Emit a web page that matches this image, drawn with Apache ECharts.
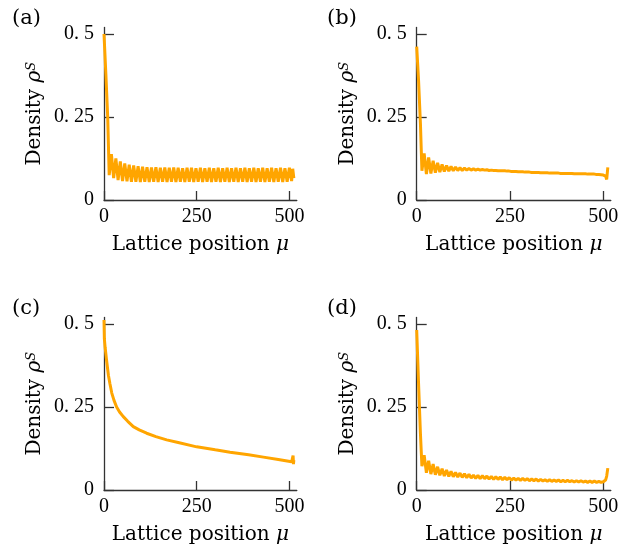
<!DOCTYPE html>
<html>
<head>
<meta charset="utf-8">
<script src="https://cdn.jsdelivr.net/npm/echarts@6/dist/echarts.min.js"></script>
<style>html,body{margin:0;padding:0;background:#fff;}#c{width:639px;height:548px;}</style>
</head>
<body>
<div id="c"></div>
<script>
// Lattice positions sampled for panels (a), (b), (d)
const muGrid = [0, 5, 10,
  14, 20, 26, 32, 38, 44, 50, 56, 62, 68, 74, 80, 86, 92, 98, 104,
  110, 116, 122, 128, 134, 140, 146, 152, 158, 164, 170, 176, 182, 188, 194, 200,
  206, 212, 218, 224, 230, 236, 242, 248, 254, 260, 266, 272, 278, 284, 290, 296,
  302, 308, 314, 320, 326, 332, 338, 344, 350, 356, 362, 368, 374, 380, 386, 392,
  398, 404, 410, 416, 422, 428, 434, 440, 446, 452, 458, 464, 470, 476, 482, 488,
  494, 500, 506, 509, 512];

const densityA = [0.50, 0.38, 0.25,
  0.075, 0.138, 0.066, 0.125, 0.060, 0.116, 0.057, 0.110, 0.056, 0.106, 0.055, 0.104, 0.055, 0.102, 0.054, 0.100,
  0.055, 0.099, 0.054, 0.098, 0.055, 0.099, 0.054, 0.097, 0.055, 0.098, 0.054, 0.097, 0.055, 0.098, 0.054, 0.097,
  0.055, 0.096, 0.054, 0.097, 0.055, 0.097, 0.054, 0.096, 0.055, 0.097, 0.054, 0.096, 0.055, 0.097, 0.054, 0.096,
  0.055, 0.097, 0.054, 0.096, 0.055, 0.097, 0.054, 0.096, 0.055, 0.097, 0.054, 0.096, 0.055, 0.097, 0.054, 0.096,
  0.055, 0.097, 0.054, 0.096, 0.055, 0.097, 0.054, 0.096, 0.055, 0.097, 0.054, 0.096, 0.055, 0.097, 0.054, 0.096,
  0.055, 0.097, 0.057, 0.094, 0.066];

const densityB = [0.462, 0.36, 0.23,
  0.088, 0.140, 0.078, 0.128, 0.080, 0.118, 0.082, 0.112, 0.084, 0.107, 0.086, 0.104, 0.087, 0.101, 0.088, 0.099,
  0.089, 0.097, 0.089, 0.096, 0.090, 0.095, 0.090, 0.094, 0.090, 0.093, 0.090, 0.092, 0.090, 0.091, 0.089, 0.090,
  0.089, 0.089, 0.088, 0.088, 0.088, 0.088, 0.087, 0.087, 0.086, 0.086, 0.086, 0.085, 0.085, 0.085, 0.084, 0.084,
  0.084, 0.083, 0.083, 0.083, 0.083, 0.082, 0.082, 0.082, 0.082, 0.081, 0.081, 0.081, 0.081, 0.081, 0.080, 0.080,
  0.080, 0.080, 0.080, 0.080, 0.079, 0.079, 0.079, 0.079, 0.079, 0.079, 0.078, 0.078, 0.078, 0.078, 0.077, 0.077,
  0.076, 0.075, 0.072, 0.062, 0.098];

const densityD = [0.482, 0.32, 0.17,
  0.072, 0.105, 0.052, 0.088, 0.048, 0.078, 0.046, 0.070, 0.044, 0.064, 0.042, 0.060, 0.041, 0.056, 0.040, 0.053,
  0.039, 0.051, 0.038, 0.049, 0.037, 0.047, 0.036, 0.045, 0.035, 0.044, 0.034, 0.043, 0.034, 0.042, 0.033, 0.041,
  0.032, 0.040, 0.032, 0.039, 0.031, 0.038, 0.031, 0.037, 0.030, 0.036, 0.030, 0.035, 0.029, 0.035, 0.029, 0.034,
  0.028, 0.033, 0.028, 0.033, 0.027, 0.032, 0.027, 0.031, 0.026, 0.031, 0.026, 0.030, 0.026, 0.030, 0.025, 0.029,
  0.025, 0.029, 0.025, 0.028, 0.024, 0.028, 0.024, 0.028, 0.024, 0.027, 0.023, 0.027, 0.023, 0.027, 0.023, 0.026,
  0.023, 0.025, 0.030, 0.042, 0.066];

// Panel (c): smooth profile
const muC = [0, 1, 3, 7, 12, 16, 21, 27, 34, 42, 52, 64, 79, 95, 115, 140, 169, 200, 250, 300,
  340, 390, 430, 470, 506, 508, 509, 510, 511, 512];
const densityC = [0.512, 0.455, 0.43, 0.39, 0.345, 0.32, 0.292, 0.27, 0.25, 0.235, 0.221, 0.207, 0.191, 0.181, 0.171, 0.161, 0.151, 0.143, 0.130, 0.121,
  0.114, 0.106, 0.099, 0.092, 0.085, 0.084, 0.080, 0.104, 0.078, 0.090];

const panelLabels = ['(a)', '(b)', '(c)', '(d)'];
const xTickValues = [0, 250, 500];
const yTickValues = [0, 0.25, 0.5];
const yTickLabels = ['0', '0. 25', '0. 5'];

const LINE = '#FFA500';
const AX = '#333';
const SERIF = "'Liberation Serif', 'DejaVu Serif', serif";
const NAMEF = "'DejaVu Serif', serif";

const grids = [
  {left: 104, top: 27.4, width: 192.8, height: 172.6},
  {left: 416.7, top: 27.4, width: 194.1, height: 172.6},
  {left: 104, top: 317.4, width: 192.8, height: 172.6},
  {left: 416.7, top: 317.4, width: 194.1, height: 172.6}
];

function pairs(xs, ys) { return xs.map((x, i) => [x, ys[i]]); }
const seriesData = [pairs(muGrid, densityA), pairs(muGrid, densityB), pairs(muC, densityC), pairs(muGrid, densityD)];

const xAxes = grids.map((g, i) => ({
  type: 'value', gridIndex: i, min: 0, max: 520,
  name: '{n|Lattice position }{m|μ}', nameLocation: 'middle', nameGap: 35,
  nameTextStyle: {fontFamily: NAMEF, fontSize: 20, color: '#000',
    rich: {n: {fontFamily: NAMEF, fontSize: 20, color: '#000'}, m: {fontFamily: NAMEF, fontSize: 20, fontStyle: 'italic', color: '#000'}}},
  axisLine: {show: true, onZero: false, lineStyle: {color: AX, width: 1.3}},
  axisTick: {show: true, inside: true, length: 9, customValues: xTickValues, lineStyle: {color: AX, width: 1.3}},
  axisLabel: {show: true, customValues: xTickValues, margin: 7, fontFamily: SERIF, fontSize: 20, color: '#000'},
  splitLine: {show: false}
}));

const yAxes = grids.map((g, i) => ({
  type: 'value', gridIndex: i, min: 0, max: 0.52,
  name: '{n|Density }{r|ρ}{s|S}', nameLocation: 'middle', nameGap: 59, nameRotate: 90,
  nameTextStyle: {fontFamily: NAMEF, fontSize: 20, color: '#000',
    rich: {n: {fontFamily: NAMEF, fontSize: 20, color: '#000'},
           r: {fontFamily: NAMEF, fontSize: 20, fontStyle: 'italic', color: '#000'},
           s: {fontFamily: NAMEF, fontSize: 13, fontStyle: 'italic', color: '#000', verticalAlign: 'top'}}},
  axisLine: {show: true, onZero: false, lineStyle: {color: AX, width: 1.3}},
  axisTick: {show: true, inside: true, length: 10, customValues: yTickValues, lineStyle: {color: AX, width: 1.3}},
  axisLabel: {show: true, customValues: yTickValues, margin: 10, fontFamily: SERIF, fontSize: 20, color: '#000',
    formatter: v => yTickLabels[yTickValues.indexOf(v)] ?? ''},
  splitLine: {show: false}
}));

const series = seriesData.map((d, i) => ({
  type: 'line', xAxisIndex: i, yAxisIndex: i, data: d, showSymbol: false, symbol: 'none',
  lineStyle: {color: LINE, width: 3}, itemStyle: {color: LINE}, animation: false, z: 1
}));

const labelPos = [[12, 8], [327, 8], [12, 298], [327, 298]];
const graphic = panelLabels.map((t, i) => ({
  type: 'text', left: labelPos[i][0], top: labelPos[i][1],
  style: {text: t, font: "21px 'DejaVu Serif', serif", fill: '#000'}
}));

const chart = echarts.init(document.getElementById('c'), null, {renderer: 'canvas'});
chart.setOption({
  animation: false,
  backgroundColor: '#fff',
  grid: grids,
  xAxis: xAxes,
  yAxis: yAxes,
  series: series,
  graphic: graphic
});
</script>
</body>
</html>
